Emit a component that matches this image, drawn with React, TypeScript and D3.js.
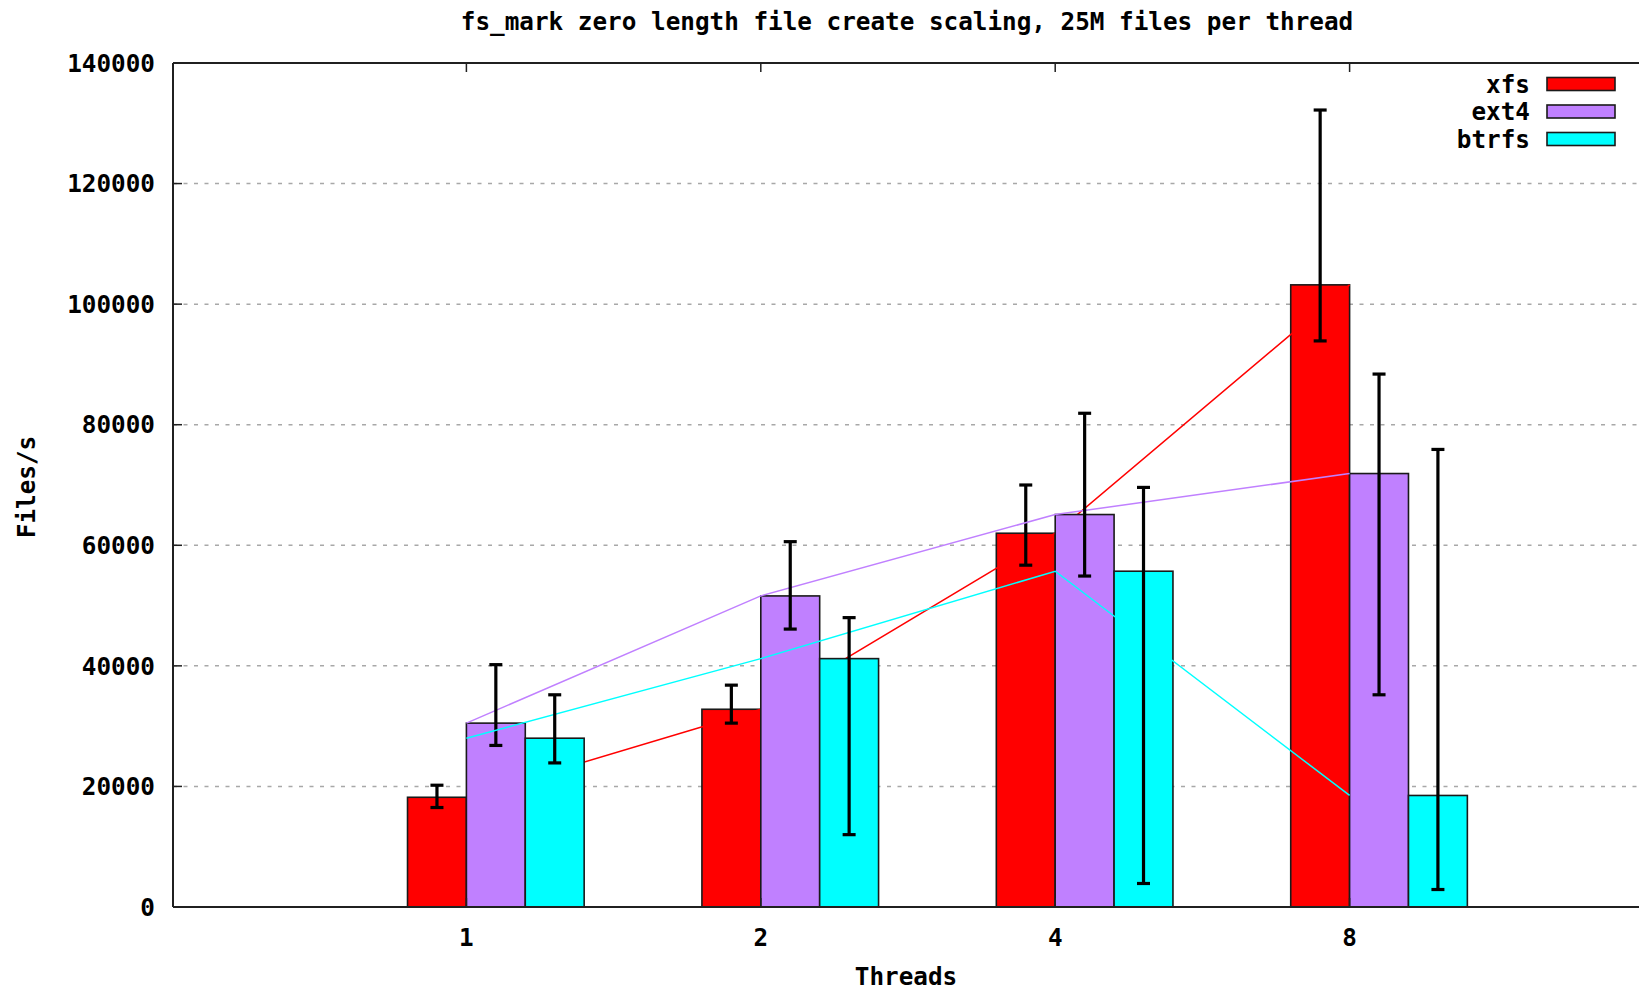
import React from "react";
import * as d3 from "d3";

const threads = ["1", "2", "4", "8"];
const seriesNames = ["xfs", "ext4", "btrfs"];
const seriesColors = ["#ff0000", "#c080ff", "#00ffff"];
const xfs = [18200, 32800, 62000, 103200];
const xfsLow = [16500, 30500, 56700, 93900];
const xfsHigh = [20200, 36800, 70000, 132200];
const ext4 = [30500, 51600, 65100, 71900];
const ext4Low = [26800, 46100, 54900, 35200];
const ext4High = [40200, 60600, 81900, 88400];
const btrfs = [28000, 41200, 55700, 18500];
const btrfsLow = [23900, 12000, 3900, 2900];
const btrfsHigh = [35200, 48000, 69600, 75900];
const yTicks = [0, 20000, 40000, 60000, 80000, 100000, 120000, 140000];

const W = 1639;
const H = 991;
const left = 173;
const top = 63;
const bottom = 907;
const FONT = "'DejaVu Sans Mono', monospace";
const FS = 24.3;

export default function App() {
  const x = d3.scaleLinear().domain([0, 5]).range([172, 1644]);
  const y = d3.scaleLinear().domain([0, 140000]).range([bottom, top]);
  const values = [xfs, ext4, btrfs];
  const lows = [xfsLow, ext4Low, btrfsLow];
  const highs = [xfsHigh, ext4High, btrfsHigh];
  const bw = 0.2;
  const line = d3
    .line<number>()
    .x((_, i) => x(i + 1))
    .y((d) => y(d));

  return (
    <svg
      width={W}
      height={H}
      style={{ position: "absolute", left: 0, top: 0, background: "#fff" }}
      fontFamily={FONT}
      fontWeight="bold"
    >
      <rect x={0} y={0} width={W} height={H} fill="#fff" />
      {/* grid */}
      {yTicks
        .filter((t) => t > 0 && t < 140000)
        .map((t) => (
          <line
            key={"g" + t}
            x1={left}
            x2={W}
            y1={y(t)}
            y2={y(t)}
            stroke="#a8a8a8"
            strokeWidth={1.5}
            strokeDasharray="4 6.5"
          />
        ))}
      {/* series */}
      {values.map((vals, s) => (
        <g key={"s" + s}>
          {vals.map((v, i) => {
            const x0 = x(i + 1 - bw + s * bw);
            const x1 = x(i + 1 + s * bw);
            return (
              <rect
                key={"b" + i}
                x={x0}
                y={y(v)}
                width={x1 - x0}
                height={y(0) - y(v)}
                fill={seriesColors[s]}
                stroke="#1a1a1a"
                strokeWidth={1.6}
              />
            );
          })}
          <path
            d={line(vals) || ""}
            fill="none"
            stroke={seriesColors[s]}
            strokeWidth={1.5}
          />
          {vals.map((v, i) => {
            const cx = x(i + 1 - bw / 2 + s * bw);
            return (
              <g key={"e" + i} stroke="#000" strokeWidth={3.2}>
                <line x1={cx} x2={cx} y1={y(lows[s][i])} y2={y(highs[s][i])} />
                <line x1={cx - 6.5} x2={cx + 6.5} y1={y(lows[s][i])} y2={y(lows[s][i])} />
                <line x1={cx - 6.5} x2={cx + 6.5} y1={y(highs[s][i])} y2={y(highs[s][i])} />
              </g>
            );
          })}
        </g>
      ))}
      {/* frame */}
      <line x1={left} x2={W} y1={top} y2={top} stroke="#202020" strokeWidth={2} />
      <line x1={left} x2={W} y1={bottom} y2={bottom} stroke="#202020" strokeWidth={2.2} />
      <line x1={left} x2={left} y1={top} y2={bottom} stroke="#202020" strokeWidth={2} />
      {/* y ticks */}
      {yTicks.map((t) => (
        <g key={"yt" + t}>
          <line x1={left} x2={left + 9} y1={y(t)} y2={y(t)} stroke="#202020" strokeWidth={1.5} />
          <text
            x={155}
            y={y(t)}
            dy="0.36em"
            textAnchor="end"
            fontSize={FS}
            fill="#000"
          >
            {t}
          </text>
        </g>
      ))}
      {/* x ticks */}
      {threads.map((t, i) => (
        <g key={"xt" + t}>
          <line x1={x(i + 1)} x2={x(i + 1)} y1={top} y2={top + 9} stroke="#202020" strokeWidth={1.5} />
          <line x1={x(i + 1)} x2={x(i + 1)} y1={bottom} y2={bottom - 9} stroke="#202020" strokeWidth={1.5} />
          <text x={x(i + 1)} y={937} dy="0.36em" textAnchor="middle" fontSize={FS} fill="#000">
            {t}
          </text>
        </g>
      ))}
      {/* title and labels */}
      <text x={907} y={21} dy="0.36em" textAnchor="middle" fontSize={FS} fill="#000">
        fs_mark zero length file create scaling, 25M files per thread
      </text>
      <text x={906} y={976} dy="0.36em" textAnchor="middle" fontSize={FS} fill="#000">
        Threads
      </text>
      <text
        transform={`translate(26,487) rotate(-90)`}
        dy="0.36em"
        textAnchor="middle"
        fontSize={FS}
        fill="#000"
      >
        Files/s
      </text>
      {/* legend */}
      {seriesNames.map((n, s) => (
        <g key={"l" + n}>
          <text x={1530} y={84 + s * 27.5} dy="0.36em" textAnchor="end" fontSize={FS} fill="#000">
            {n}
          </text>
          <rect
            x={1547}
            y={77.5 + s * 27.5}
            width={68}
            height={13}
            fill={seriesColors[s]}
            stroke="#1a1a1a"
            strokeWidth={1.6}
          />
        </g>
      ))}
    </svg>
  );
}
